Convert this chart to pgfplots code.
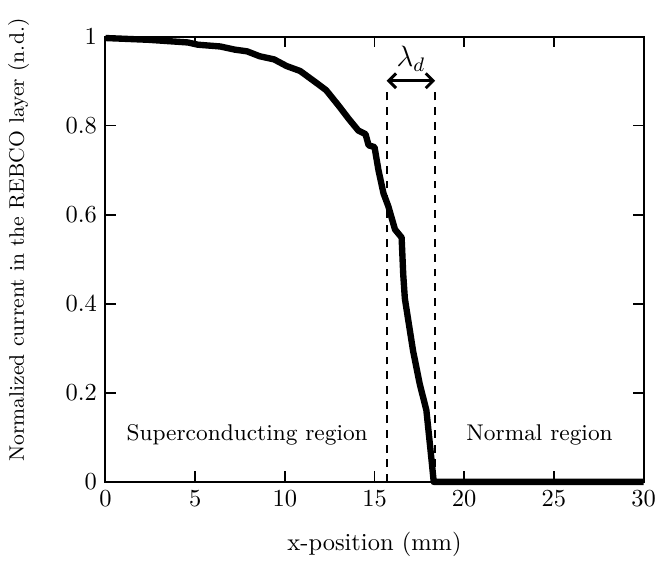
\documentclass[border=0pt]{standalone}
\usepackage{pgfplots}
\pgfplotsset{compat=1.18}
\usetikzlibrary{arrows.meta}

\begin{document}
\begin{tikzpicture}
\begin{axis}[
    scale only axis,
    width=220pt, height=182pt,
    xmin=0, xmax=30, ymin=0, ymax=1,
    xtick={0,5,...,30},
    ytick={0,0.2,0.4,0.6,0.8,1},
    yticklabels={0,0.2,0.4,0.6,0.8,1},
    tick align=inside,
    axis line style={line width=0.8pt},
    tick style={line width=0.6pt, black},
    xlabel={x-position (mm)},
    ylabel={Normalized current in the REBCO layer (n.d.)},
    xlabel shift=3.5pt,
    ylabel style={at={(ticklabel cs:0.543,8pt)}, font=\fontsize{8.6}{10}\selectfont},
    clip=false,
]
\addplot[black, line width=2.6pt, line join=round] coordinates {
    (0,0.997)(2.4,0.993)(4.6,0.987)(5.15,0.982)(6.4,0.978)(7.2,0.971)
    (7.9,0.967)(8.6,0.956)(9.4,0.949)(10.1,0.934)(10.85,0.923)(11.6,0.901)
    (12.3,0.880)(13.0,0.845)(13.57,0.815)(14.1,0.789)(14.5,0.781)(14.67,0.756)
    (15.0,0.752)(15.22,0.700)(15.5,0.648)(15.77,0.619)(16.14,0.567)(16.51,0.549)
    (16.6,0.466)(16.69,0.412)(17.15,0.294)(17.52,0.220)(17.89,0.161)
    (18.15,0.06)(18.3,0)(30,0)};
\addplot[black, line width=0.8pt, dash pattern=on 3.2pt off 2.8pt] coordinates {(15.68,0)(15.68,0.887)};
\addplot[black, line width=0.8pt, dash pattern=on 3.2pt off 2.8pt] coordinates {(18.38,0)(18.38,0.887)};
\draw[{Straight Barb[length=3pt]}-{Straight Barb[length=3pt]}, line width=1.2pt]
    (axis cs:15.68,0.901) -- (axis cs:18.38,0.901);
\node at (axis cs:17.03,0.95) {\large $\lambda_d$};
\node[font=\fontsize{9.3}{11}\selectfont] at (axis cs:7.9,0.105) {Superconducting region};
\node[font=\fontsize{9.3}{11}\selectfont] at (axis cs:24.2,0.105) {Normal region};
\path (rel axis cs:0,1) ++(0,15pt);
\end{axis}
\end{tikzpicture}
\end{document}
